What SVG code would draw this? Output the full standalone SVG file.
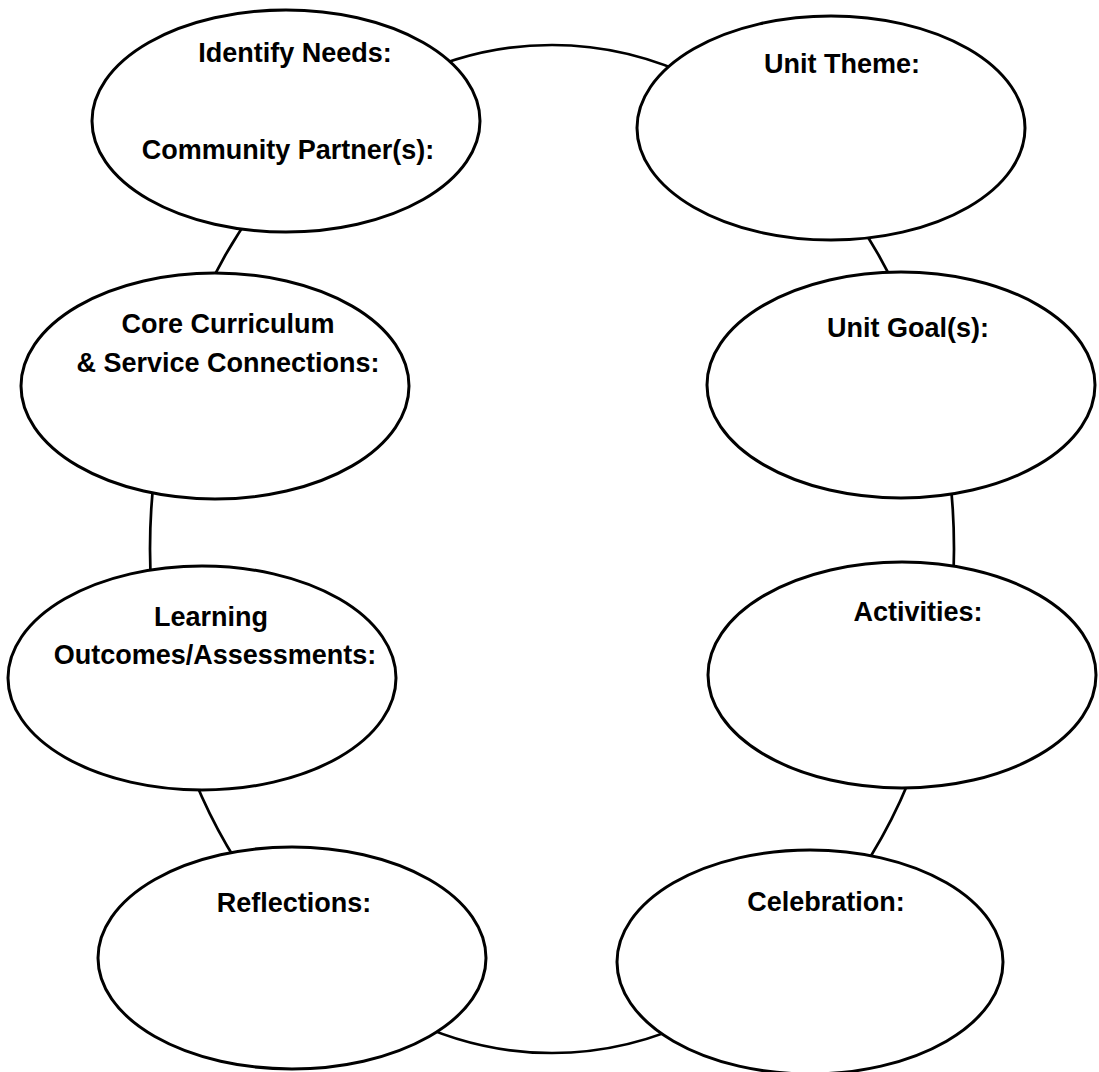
<svg xmlns="http://www.w3.org/2000/svg" width="1099" height="1072" viewBox="0 0 1099 1072">
  <style>
    .ring { fill: none; stroke: #000; stroke-width: 2.7; }
    .node { fill: #fff; stroke: #000; stroke-width: 3; }
    .label { font-family: "Liberation Sans", Arial, sans-serif; font-weight: bold; font-size: 27px; fill: #000; text-anchor: middle; }
  </style>
  <rect width="1099" height="1072" fill="#fff"/>

  <!-- the loop that links every planning step -->
  <g id="connectors">
    <ellipse class="ring" cx="552" cy="549" rx="402" ry="504"/>
  </g>

  <g id="identify-needs">
    <ellipse class="node" cx="286" cy="121" rx="194" ry="111"/>
    <text class="label" x="295" y="62">Identify Needs:</text>
    <text class="label" x="288" y="159">Community Partner(s):</text>
  </g>

  <g id="unit-theme">
    <ellipse class="node" cx="831" cy="128" rx="194" ry="112"/>
    <text class="label" x="842" y="73">Unit Theme:</text>
  </g>

  <g id="core-curriculum">
    <ellipse class="node" cx="215" cy="386" rx="194" ry="113"/>
    <text class="label" x="228" y="333">Core Curriculum</text>
    <text class="label" x="228" y="372">&amp; Service Connections:</text>
  </g>

  <g id="unit-goals">
    <ellipse class="node" cx="901" cy="385" rx="194" ry="113"/>
    <text class="label" x="908" y="337">Unit Goal(s):</text>
  </g>

  <g id="learning-outcomes">
    <ellipse class="node" cx="202" cy="678" rx="194" ry="112"/>
    <text class="label" x="211" y="626">Learning</text>
    <text class="label" x="215" y="664">Outcomes/Assessments:</text>
  </g>

  <g id="activities">
    <ellipse class="node" cx="902" cy="675" rx="194" ry="113"/>
    <text class="label" x="918" y="621">Activities:</text>
  </g>

  <g id="reflections">
    <ellipse class="node" cx="292" cy="958" rx="194" ry="111"/>
    <text class="label" x="294" y="912">Reflections:</text>
  </g>

  <g id="celebration">
    <ellipse class="node" cx="810" cy="962" rx="193" ry="112"/>
    <text class="label" x="826" y="911">Celebration:</text>
  </g>
</svg>
